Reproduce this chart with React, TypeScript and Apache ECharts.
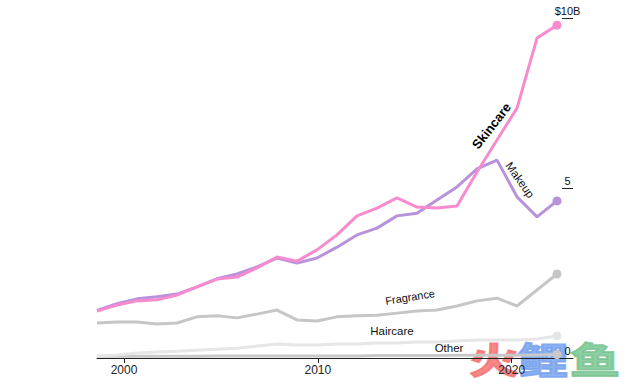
import React, { useEffect, useRef } from "react";
import * as echarts from "echarts";

const years = [1999, 2000, 2001, 2002, 2003, 2004, 2005, 2006, 2007, 2008, 2009, 2010, 2011, 2012, 2013, 2014, 2015, 2016, 2017, 2018, 2019, 2020, 2021, 2022];
const skincare = [1.38, 1.56, 1.68, 1.71, 1.85, 2.09, 2.32, 2.38, 2.65, 2.97, 2.85, 3.18, 3.62, 4.18, 4.41, 4.71, 4.44, 4.41, 4.47, 5.47, 6.41, 7.35, 9.41, 9.79];
const makeup = [1.4, 1.6, 1.74, 1.8, 1.88, 2.09, 2.33, 2.47, 2.68, 2.94, 2.79, 2.94, 3.26, 3.62, 3.82, 4.18, 4.26, 4.65, 5.03, 5.56, 5.82, 4.74, 4.15, 4.62];
const fragrance = [1.03, 1.06, 1.06, 1.0, 1.03, 1.21, 1.24, 1.18, 1.29, 1.41, 1.12, 1.09, 1.21, 1.24, 1.26, 1.32, 1.38, 1.41, 1.53, 1.68, 1.76, 1.53, 2.0, 2.47];
const haircare = [0.06, 0.09, 0.15, 0.18, 0.2, 0.23, 0.26, 0.29, 0.35, 0.41, 0.38, 0.38, 0.41, 0.41, 0.44, 0.44, 0.47, 0.47, 0.5, 0.53, 0.53, 0.53, 0.56, 0.65];
const other = [0.05, 0.05, 0.05, 0.05, 0.05, 0.05, 0.06, 0.06, 0.06, 0.06, 0.06, 0.06, 0.06, 0.06, 0.07, 0.07, 0.07, 0.07, 0.08, 0.08, 0.08, 0.08, 0.09, 0.1];
const xTickValues = [2000, 2010, 2020];
const yTickLabels: Record<number, string> = { 0: "0", 5: "5", 10: "$10B" };

const FONT = "'Liberation Sans', Arial, Helvetica, sans-serif";
const CJK = "'Noto Sans CJK SC'";

function mk(name: string, values: number[], color: string, width: number) {
  const last = values.length - 1;
  return {
    name,
    type: "line",
    xAxisIndex: 0,
    yAxisIndex: 0,
    data: values.map((v, i) => ({
      value: [years[i], v],
      symbol: i === last ? "circle" : "none",
      symbolSize: 9,
    })),
    lineStyle: { color, width },
    itemStyle: { color },
    showSymbol: true,
    silent: true,
  };
}

function mark(ch: string, x: number, color: string) {
  return {
    type: "text",
    x,
    y: 358,
    scaleY: 0.72,
    z: -10,
    style: {
      text: ch,
      fontFamily: CJK,
      fontSize: 50,
      fontWeight: "bold",
      fill: color,
      stroke: color,
      lineWidth: 2.5,
      opacity: 0.85,
      textAlign: "center",
      textVerticalAlign: "middle",
    },
  };
}

export default function App() {
  const ref = useRef<HTMLDivElement>(null);
  useEffect(() => {
    if (!ref.current) return;
    const chart = echarts.init(ref.current, null, { renderer: "svg" });
    chart.setOption({
      animation: false,
      backgroundColor: "#ffffff",
      textStyle: { fontFamily: FONT },
      grid: { left: 97, right: 67, top: 18, bottom: 25 },
      xAxis: [
        { type: "value", min: 1999, max: 2022.8, show: false },
        {
          type: "value",
          min: 1998.607,
          max: 2023.162,
          position: "bottom",
          axisLine: { show: true, onZero: false, lineStyle: { color: "#222", width: 1 } },
          axisTick: { show: true, length: 5, customValues: xTickValues, lineStyle: { color: "#222" } },
          axisLabel: {
            customValues: xTickValues,
            formatter: (v: number) => String(v),
            color: "#222",
            fontSize: 12,
            fontFamily: FONT,
            margin: 6,
          },
          splitLine: { show: false },
        },
      ],
      yAxis: {
        type: "value",
        position: "right",
        min: 0,
        max: 10,
        interval: 5,
        axisLine: { show: false },
        axisTick: { show: true, inside: true, length: 11, lineStyle: { color: "#222" } },
        axisLabel: {
          formatter: (v: number) => yTickLabels[v] ?? "",
          margin: -5.5,
          align: "center",
          verticalAlign: "bottom",
          color: "#111",
          fontSize: 11,
          fontFamily: FONT,
          padding: [0, 0, 2, 0],
        },
        splitLine: { show: false },
      },
      series: [
        mk("Other", other, "#c9c9c9", 3),
        mk("Haircare", haircare, "#e6e6e6", 3),
        mk("Fragrance", fragrance, "#c6c6c6", 3),
        mk("Makeup", makeup, "#b992dc", 3),
        mk("Skincare", skincare, "#f78bcd", 3),
      ],
      graphic: [
        mark("火", 494, "#f47474"),
        mark("鲤", 543, "#78a2ef"),
        mark("鱼", 595, "#78c592"),
        { type: "text", x: 491.5, y: 126, rotation: 0.907, style: { text: "Skincare", fontFamily: FONT, fontSize: 13, fontWeight: "bold", fill: "#000", textAlign: "center", textVerticalAlign: "middle" } },
        { type: "text", x: 520, y: 180, rotation: -0.96, style: { text: "Makeup", fontFamily: FONT, fontSize: 11.5, fill: "#111", textAlign: "center", textVerticalAlign: "middle" } },
        { type: "text", x: 410, y: 297, rotation: 0.16, style: { text: "Fragrance", fontFamily: FONT, fontSize: 11, fill: "#111", textAlign: "center", textVerticalAlign: "middle" } },
        { type: "text", x: 392, y: 331, style: { text: "Haircare", fontFamily: FONT, fontSize: 11.5, fill: "#111", textAlign: "center", textVerticalAlign: "middle" } },
        { type: "text", x: 449, y: 348, style: { text: "Other", fontFamily: FONT, fontSize: 11.5, fill: "#111", textAlign: "center", textVerticalAlign: "middle" } },
      ],
    });
    return () => chart.dispose();
  }, []);
  return <div ref={ref} style={{ width: 640, height: 383, position: "absolute", left: 0, top: 0 }} />;
}
